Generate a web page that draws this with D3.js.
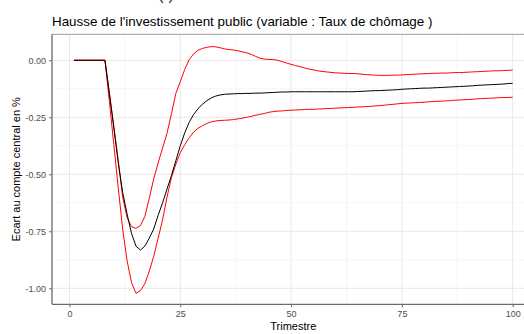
<!DOCTYPE html>
<html>
<head>
<meta charset="utf-8">
<script src="https://cdn.jsdelivr.net/npm/d3@7"></script>
<style>
  html, body { margin: 0; padding: 0; background: #fff; }
  svg { display: block; font-family: "Liberation Sans", Arial, sans-serif; }
</style>
</head>
<body>
<svg id="chart" width="524" height="334"></svg>
<script>
// Quarters 1..100
const trimestres = d3.range(1, 101);

// Central response (deviation from the baseline, %)
const central = [
  0, 0, 0, 0, 0, 0, 0, 0, -0.145, -0.295,
  -0.45, -0.58, -0.675, -0.76, -0.815, -0.832, -0.815, -0.78, -0.74, -0.68,
  -0.625, -0.565, -0.505, -0.44, -0.375, -0.318, -0.272, -0.238, -0.212, -0.193,
  -0.177, -0.165, -0.157, -0.152, -0.149, -0.148, -0.147, -0.146, -0.146, -0.145,
  -0.145, -0.144, -0.144, -0.143, -0.142, -0.141, -0.14, -0.139, -0.139, -0.138,
  -0.138, -0.138, -0.138, -0.138, -0.138, -0.138, -0.138, -0.138, -0.138, -0.138,
  -0.138, -0.138, -0.138, -0.138, -0.137, -0.136, -0.135, -0.134, -0.133, -0.133,
  -0.132, -0.131, -0.13, -0.129, -0.127, -0.126, -0.125, -0.124, -0.123, -0.122,
  -0.122, -0.121, -0.12, -0.119, -0.118, -0.117, -0.116, -0.115, -0.114, -0.113,
  -0.112, -0.11, -0.109, -0.108, -0.107, -0.106, -0.105, -0.104, -0.102, -0.101
];

// Upper bound of the band
const borneHaute = [
  0, 0, 0, 0, 0, 0, 0, 0, -0.145, -0.29,
  -0.44, -0.6, -0.69, -0.73, -0.737, -0.725, -0.685, -0.605, -0.52, -0.45,
  -0.385, -0.32, -0.235, -0.145, -0.094, -0.04, 0.003, 0.028, 0.044, 0.052,
  0.057, 0.06, 0.059, 0.055, 0.05, 0.047, 0.045, 0.042, 0.037, 0.033,
  0.026, 0.017, 0.009, 0.005, 0.004, 0.003, 0.0, -0.006, -0.012, -0.018,
  -0.023, -0.028, -0.033, -0.038, -0.042, -0.046, -0.049, -0.051, -0.053, -0.055,
  -0.056, -0.057, -0.058, -0.058, -0.059, -0.061, -0.063, -0.064, -0.065, -0.066,
  -0.066, -0.066, -0.065, -0.065, -0.064, -0.063, -0.062, -0.061, -0.06, -0.059,
  -0.058, -0.057, -0.057, -0.056, -0.056, -0.055, -0.054, -0.054, -0.053, -0.052,
  -0.051, -0.05, -0.049, -0.048, -0.047, -0.046, -0.046, -0.045, -0.044, -0.043
];

// Lower bound of the band
const borneBasse = [
  0, 0, 0, 0, 0, 0, 0, 0, -0.18, -0.37,
  -0.56, -0.74, -0.88, -0.975, -1.022, -1.01, -0.98, -0.925, -0.86, -0.78,
  -0.7, -0.6, -0.515, -0.455, -0.405, -0.37, -0.34, -0.315, -0.298, -0.287,
  -0.277, -0.27, -0.266, -0.264, -0.263, -0.262, -0.26, -0.257, -0.254, -0.25,
  -0.246, -0.241, -0.237, -0.233, -0.228, -0.225, -0.223, -0.222, -0.22, -0.219,
  -0.218, -0.217, -0.216, -0.215, -0.215, -0.214, -0.213, -0.212, -0.211, -0.21,
  -0.209, -0.208, -0.207, -0.206, -0.205, -0.204, -0.203, -0.202, -0.2, -0.199,
  -0.197, -0.195, -0.193, -0.191, -0.189, -0.188, -0.187, -0.186, -0.185, -0.184,
  -0.182, -0.181, -0.18, -0.179, -0.178, -0.177, -0.175, -0.174, -0.173, -0.172,
  -0.171, -0.169, -0.168, -0.167, -0.166, -0.165, -0.164, -0.163, -0.163, -0.162
];

const xTicks = [0, 25, 50, 75, 100];
const xMinor = [12.5, 37.5, 62.5, 87.5];
const yTicks = [0, -0.25, -0.5, -0.75, -1.0];
const yMinor = [-0.125, -0.375, -0.625, -0.875];

const titre = "Hausse de l'investissement public (variable : Taux de chômage )";
const titreX = "Trimestre";
const titreY = "Ecart au compte central en %";

const svg = d3.select("#chart");
const panel = { left: 52, right: 534.6, top: 34.3, bottom: 304.3 };

const x = d3.scaleLinear().domain([-3.95, 104.95]).range([panel.left, panel.right]);
const y = d3.scaleLinear().domain([-1.0702, 0.114]).range([panel.bottom, panel.top]);

// Heading above the chart, mostly outside the visible area
svg.append("text")
  .attr("x", 158).attr("y", 0)
  .attr("font-size", 17).attr("fill", "#333")
  .text("(  )");

svg.append("defs").append("clipPath").attr("id", "clip")
  .append("rect")
  .attr("x", panel.left).attr("y", panel.top)
  .attr("width", panel.right - panel.left).attr("height", panel.bottom - panel.top);

const grid = svg.append("g");
grid.selectAll(".xm").data(xMinor).join("line")
  .attr("x1", d => x(d)).attr("x2", d => x(d))
  .attr("y1", panel.top).attr("y2", panel.bottom)
  .attr("stroke", "#f3f3f3").attr("stroke-width", 0.8);
grid.selectAll(".ym").data(yMinor).join("line")
  .attr("y1", d => y(d)).attr("y2", d => y(d))
  .attr("x1", panel.left).attr("x2", panel.right)
  .attr("stroke", "#f3f3f3").attr("stroke-width", 0.8);
grid.selectAll(".xM").data(xTicks).join("line")
  .attr("x1", d => x(d)).attr("x2", d => x(d))
  .attr("y1", panel.top).attr("y2", panel.bottom)
  .attr("stroke", "#e8e8e8").attr("stroke-width", 1);
grid.selectAll(".yM").data(yTicks).join("line")
  .attr("y1", d => y(d)).attr("y2", d => y(d))
  .attr("x1", panel.left).attr("x2", panel.right)
  .attr("stroke", "#e8e8e8").attr("stroke-width", 1);

// Panel top border
svg.append("line")
  .attr("x1", panel.left).attr("x2", panel.right)
  .attr("y1", panel.top).attr("y2", panel.top)
  .attr("stroke", "#9a9a9a").attr("stroke-width", 1);

// Series
const line = vals => d3.line()
  .x((d, i) => x(trimestres[i]))
  .y(d => y(d))(vals);

const series = [
  { values: borneHaute, color: "#ff0000" },
  { values: borneBasse, color: "#ff0000" },
  { values: central, color: "#000000" }
];
const plot = svg.append("g").attr("clip-path", "url(#clip)");
plot.selectAll("path").data(series).join("path")
  .attr("d", d => line(d.values))
  .attr("fill", "none")
  .attr("stroke", d => d.color)
  .attr("stroke-width", 1)
  .attr("stroke-linejoin", "round");

// Axes
const xAxis = svg.append("g")
  .attr("transform", `translate(0,${panel.bottom})`)
  .call(d3.axisBottom(x).tickValues(xTicks).tickFormat(d3.format("d")).tickSizeOuter(0).tickSize(3).tickPadding(3));
const yAxis = svg.append("g")
  .attr("transform", `translate(${panel.left},0)`)
  .call(d3.axisLeft(y).tickValues(yTicks).tickFormat(d3.format(".2f")).tickSizeOuter(0).tickSize(3).tickPadding(3));

[xAxis, yAxis].forEach(a => {
  a.select(".domain").attr("stroke", "#6b6b6b").attr("stroke-width", 1.3);
  a.selectAll(".tick line").attr("stroke", "#6b6b6b").attr("stroke-width", 1);
  a.selectAll(".tick text")
    .attr("fill", "#4d4d4d")
    .attr("font-size", 9)
    .attr("font-family", "Liberation Sans, Arial, sans-serif");
});
yAxis.selectAll(".tick text").text(d => d3.format(".2f")(d).replace("−", "-"));
xAxis.select(".domain").attr("d", `M${panel.left},0H${panel.right}`);
yAxis.select(".domain").attr("d", `M0,${panel.top}V${panel.bottom}`);

// Titles
svg.append("text")
  .attr("x", panel.left).attr("y", 26)
  .attr("font-size", 13.4).attr("fill", "#000")
  .text(titre);
svg.append("text")
  .attr("x", (panel.left + panel.right) / 2).attr("y", 330)
  .attr("text-anchor", "middle")
  .attr("font-size", 11).attr("fill", "#000")
  .text(titreX);
svg.append("text")
  .attr("transform", `translate(20,${(panel.top + panel.bottom) / 2}) rotate(-90)`)
  .attr("text-anchor", "middle")
  .attr("font-size", 11).attr("fill", "#000")
  .text(titreY);
</script>
</body>
</html>
